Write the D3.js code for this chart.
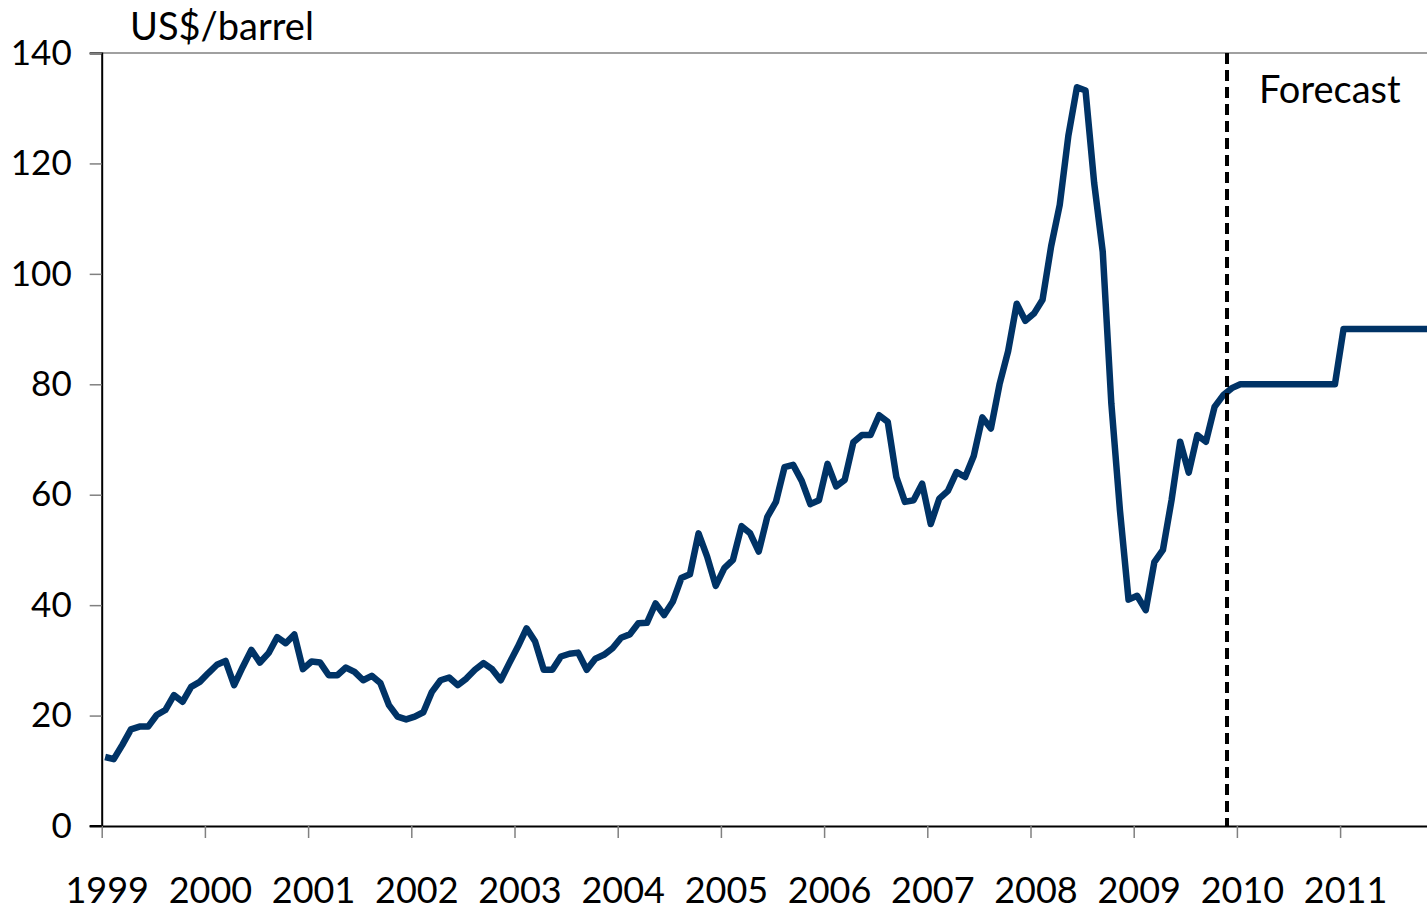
<!DOCTYPE html>
<html>
<head>
<meta charset="utf-8">
<script src="https://cdn.jsdelivr.net/npm/d3@7"></script>
<style>
    body { margin: 0; background: #fff; overflow: hidden; }
    svg { display: block; font-family: Lato, "DejaVu Sans", sans-serif; }
</style>
</head>
<body>
<div class="chart"></div>
<script>
// monthly oil price, Jan 1999 onwards (forecast from late 2009)
var monthlyPrice = [
    12.5, 12.1, 14.7, 17.5, 18.0, 18.0, 20.1, 21.0, 23.7, 22.5, 25.2, 26.1, // 1999
    27.7, 29.2, 29.9, 25.5, 28.8, 31.9, 29.6, 31.3, 34.2, 33.1, 34.7, 28.4, // 2000
    29.8, 29.6, 27.3, 27.3, 28.7, 27.9, 26.4, 27.2, 25.9, 21.9, 19.8, 19.3, // 2001
    19.8, 20.6, 24.3, 26.4, 26.9, 25.5, 26.7, 28.3, 29.5, 28.4, 26.4, 29.5, // 2002
    32.5, 35.8, 33.4, 28.3, 28.3, 30.7, 31.2, 31.4, 28.3, 30.3, 31.0, 32.2, // 2003
    34.1, 34.7, 36.7, 36.8, 40.3, 38.2, 40.6, 44.9, 45.6, 53.0, 48.8, 43.5, // 2004
    46.7, 48.2, 54.3, 53.0, 49.7, 56.0, 58.7, 65.0, 65.4, 62.5, 58.3, 59.0, // 2005
    65.6, 61.5, 62.7, 69.5, 70.8, 70.8, 74.4, 73.2, 63.2, 58.7, 59.0, 62.0, // 2006
    54.7, 59.3, 60.7, 64.1, 63.2, 67.0, 74.0, 72.0, 80.0, 86.0, 94.6, 91.5, // 2007
    92.8, 95.3, 105.0, 112.5, 125.0, 133.8, 133.2, 116.5, 104.0, 76.5, 57.2, 41.0, // 2008
    41.7, 39.1, 47.8, 50.0, 59.0, 69.6, 64.0, 70.8, 69.6, 75.9, 78.0, 79.3, // 2009
    80, 80, 80, 80, 80, 80, 80, 80, 80, 80, 80, 80, // 2010
    90, 90, 90, 90, 90, 90, 90, 90, 90, 90, 90, 90  // 2011
];
var yearLabels = ["1999", "2000", "2001", "2002", "2003", "2004", "2005",
    "2006", "2007", "2008", "2009", "2010", "2011"];
var yTicks = [0, 20, 40, 60, 80, 100, 120, 140];
var forecastStartMonth = 130.85;
var unitLabel = "US$/barrel";
var forecastLabel = "Forecast";

drawChart();

function drawChart() {
    var W = 1427, H = 911;
    var margins = { top: 53, left: 101.7, bottom: 85 };
    var plotBottom = H - margins.bottom;
    // monthly points sit a little after the start of their month
    var pointOffset = 0.4;

    var svg = d3.select('.chart')
        .append('svg')
        .attr('width', W)
        .attr('height', H);

    var xScale = d3.scaleLinear()
        .domain([0, monthlyPrice.length - 1])
        .range([margins.left, margins.left + 8.6 * (monthlyPrice.length - 1)]);

    var yScale = d3.scaleLinear()
        .domain([0, 140])
        .range([plotBottom, margins.top]);

    // top border line
    svg.append('line')
        .attr('x1', margins.left - 12)
        .attr('x2', W)
        .attr('y1', yScale(140))
        .attr('y2', yScale(140))
        .attr('stroke', '#808080')
        .attr('stroke-width', 1.5);

    var yAxis = d3.axisLeft(yScale)
        .tickValues(yTicks)
        .tickSize(12)
        .tickPadding(18)
        .tickFormat(d3.format('d'));

    var gy = svg.append('g')
        .attr('transform', 'translate(' + margins.left + ',0)')
        .call(yAxis);
    gy.select('.domain').attr('stroke', '#000').attr('stroke-width', 2);
    gy.selectAll('.tick line').attr('stroke', '#808080').attr('stroke-width', 1.5);
    gy.selectAll('.tick text')
        .style('font-size', '35px')
        .style('font-family', 'Lato, sans-serif')
        .attr('fill', '#000');

    var xAxis = d3.axisBottom(xScale)
        .tickValues(yearLabels.map(function (d, i) { return i * 12; }))
        .tickSize(12)
        .tickSizeOuter(0)
        .tickFormat(function (d) { return yearLabels[d / 12]; });

    var gx = svg.append('g')
        .attr('transform', 'translate(0,' + plotBottom + ')')
        .call(xAxis);
    gx.select('.domain').attr('stroke', '#000').attr('stroke-width', 2);
    gx.selectAll('.tick line').attr('stroke', '#808080').attr('stroke-width', 1.5);
    gx.selectAll('.tick text')
        .attr('x', 5)
        .attr('y', 77)
        .attr('dy', 0)
        .style('font-size', '36px')
        .style('font-family', 'Lato, sans-serif')
        .attr('fill', '#000');

    // extend x axis line left to meet the 0 tick
    svg.append('line')
        .attr('x1', margins.left - 12)
        .attr('x2', margins.left)
        .attr('y1', plotBottom)
        .attr('y2', plotBottom)
        .attr('stroke', '#000')
        .attr('stroke-width', 2);

    var line = d3.line()
        .x(function (d, i) { return xScale(i + pointOffset); })
        .y(function (d) { return yScale(d); });

    svg.append('path')
        .datum(monthlyPrice)
        .attr('d', line)
        .attr('fill', 'none')
        .attr('stroke', '#003366')
        .attr('stroke-width', 6.5)
        .attr('stroke-linejoin', 'round');

    svg.append('line')
        .attr('x1', xScale(forecastStartMonth))
        .attr('x2', xScale(forecastStartMonth))
        .attr('y1', yScale(140))
        .attr('y2', yScale(0))
        .attr('stroke', '#000')
        .attr('stroke-width', 4)
        .attr('stroke-dasharray', '11,6');

    svg.append('text')
        .attr('x', 130)
        .attr('y', 40)
        .style('font-size', '38px')
        .attr('fill', '#000')
        .text(unitLabel);

    svg.append('text')
        .attr('x', 1259)
        .attr('y', 103)
        .style('font-size', '38px')
        .attr('fill', '#000')
        .text(forecastLabel);
}
</script>
</body>
</html>
